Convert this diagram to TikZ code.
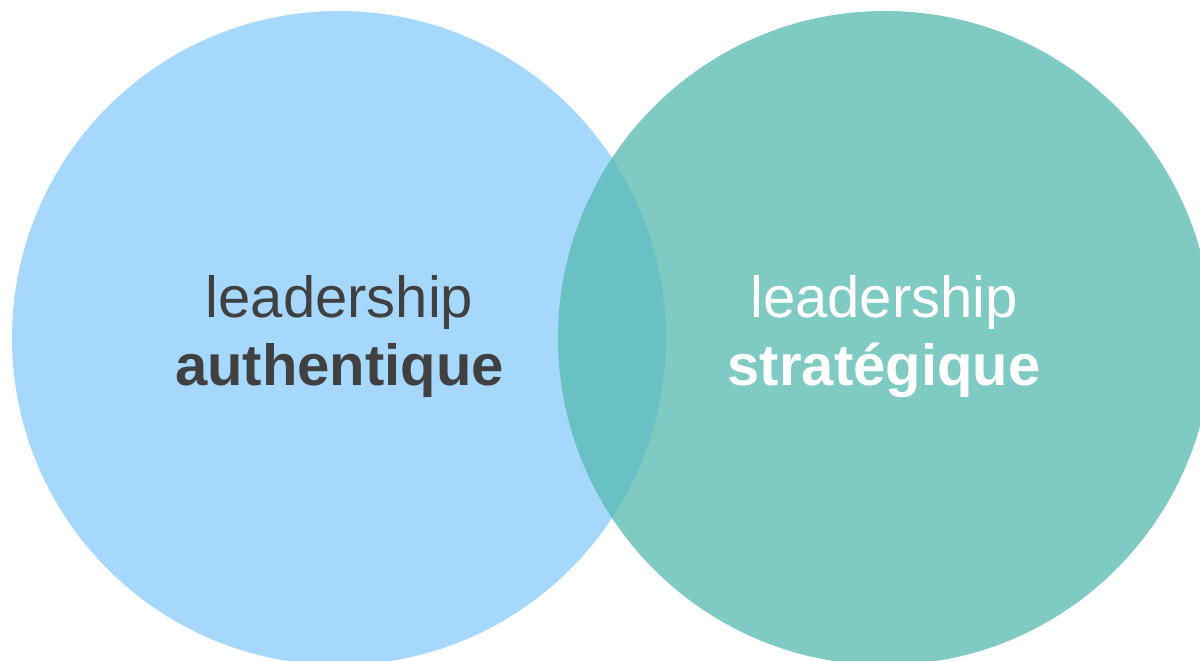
\documentclass[tikz,border=0pt]{standalone}
\usepackage{fontspec}
\setmainfont{Liberation Sans}
\definecolor{leftblue}{RGB}{166,216,254}
\definecolor{rightteal}{RGB}{89,187,178}
\definecolor{darktext}{RGB}{64,64,64}
\begin{document}
\begin{tikzpicture}[x=1pt,y=-1pt,
  label/.style={anchor=base,inner sep=0pt,font=\fontsize{58}{68}\selectfont},
  boldlabel/.style={label,font=\fontsize{58}{68}\selectfont\bfseries}]
\useasboundingbox (0,0) rectangle (1200,661);
\clip (0,0) rectangle (1200,661);
\fill[leftblue] (339,338) circle[radius=327];
\fill[rightteal,fill opacity=0.77] (885,338) circle[radius=327];
\node[label,text=darktext] (l1) at (339.5,317) {leadership};
\node[boldlabel,text=darktext] (l2) at (339.5,385) {authentique};
\node[label,text=white] (r1) at (884,317) {leadership};
\node[boldlabel,text=white] (r2) at (884,385) {stratégique};
\end{tikzpicture}
\end{document}
